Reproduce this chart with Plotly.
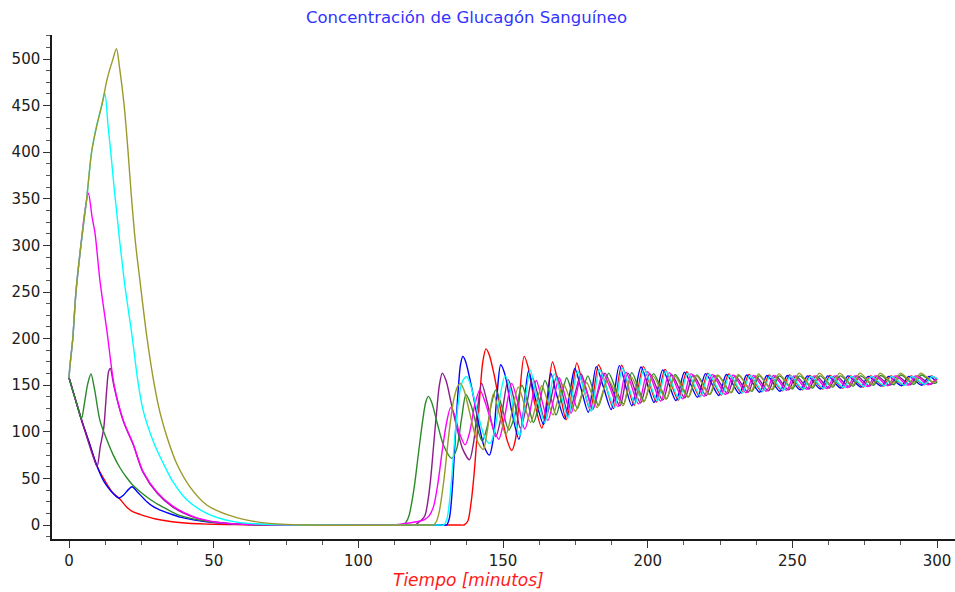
import plotly.graph_objects as go

# Blood glucagon concentration for seven simulation runs, as (minutes, value) pairs.
red = [(0, 158), (2, 137), (4.3, 113), (7, 88), (9.7, 63), (12.5, 47), (15, 35), (17.7, 27.5),
       (20, 19), (22.2, 14), (24.5, 11.5), (27, 9), (30, 6.5), (35, 3.8), (40, 2.2), (45, 1.3),
       (50, 0.8), (57, 0.4), (65, 0.2), (75, 0.05), (85, 0), (135.3, 0), (136.5, 0), (137.8, 4), (139, 25),
       (140, 55), (141, 95), (142, 140), (143, 175), (144.1, 189), (145.2, 183), (147, 160),
       (149.5, 118), (151.5, 90), (153, 80), (154.3, 92), (155.6, 135), (157.3, 181), (158.8, 168),
       (161, 130), (163.4, 104), (165.2, 135), (167.1, 175), (169.2, 150), (171.8, 113),
       (173.7, 140), (175.5, 174), (177.6, 150), (180.2, 123), (183, 172), (185.5, 150),
       (188.2, 125), (191, 171.5), (195.3, 128.5), (198.5, 170), (203, 132), (206, 167),
       (210.6, 134), (213.5, 164.5), (218, 137.5), (220.8, 163), (225.4, 139.5), (228, 162),
       (232.5, 141.5), (235, 161.5), (239.5, 143), (242, 161), (246.5, 144), (249, 161),
       (253.5, 145), (256, 160.5), (260.5, 146), (263, 160.5), (267.5, 147), (270, 160),
       (274.5, 148), (277, 160), (281.5, 149), (284, 160), (288.5, 150), (291, 160),
       (295.5, 150.5), (298, 160), (300, 156)]

blue = [(0, 158), (2, 137), (4.3, 113), (7, 88), (9.7, 63), (12, 47), (14.2, 37.5), (17.2, 29),
        (18.8, 32), (20.5, 38), (21.8, 41), (23.5, 36), (26.9, 25), (29, 20), (31.5, 16), (35, 12),
        (38.4, 8.5), (43, 5.5), (47.6, 3.5), (55, 1.5), (65, 0.5), (75, 0.1), (85, 0), (129.3, 0), (130.5, 0),
        (131.5, 8), (132.5, 40), (133.5, 95), (134.5, 145), (135.3, 172), (136.1, 181), (137, 176),
        (139, 150), (141.5, 110), (143.5, 84), (145.3, 75), (146.5, 90), (147.8, 135), (149.2, 172),
        (150.8, 160), (153, 122), (155.5, 92), (157, 120), (158.8, 165), (160.8, 140), (164, 108),
        (165.3, 130), (166.5, 163), (168.5, 140), (171.3, 114), (173, 140), (174.8, 168),
        (177, 146), (179.5, 121), (182.2, 170), (184.7, 148), (187.4, 124), (190.2, 171),
        (194.5, 128), (197.7, 169.5), (202.2, 131.5), (205.2, 166.5), (209.8, 133.5),
        (212.7, 164), (217.2, 137), (220, 162.5), (224.6, 139), (227.2, 161.5), (231.7, 141),
        (234.2, 161), (238.7, 142.5), (241.2, 160.5), (245.7, 143.5), (248.2, 160.5),
        (252.7, 145), (255.2, 160), (259.7, 146), (262.2, 160), (266.7, 147), (269.2, 160),
        (273.7, 148), (276.2, 159.5), (280.7, 149), (283.2, 159.5), (287.7, 149.5),
        (290.2, 159.5), (294.7, 150), (297.2, 159.5), (300, 153)]

purple = [(0, 158), (2, 137), (4.3, 113), (5.5, 101), (7, 86), (8.5, 72), (9.7, 63), (10.8, 84),
          (12, 104), (12.6, 127), (13.1, 148), (13.7, 165), (14.3, 168), (15, 158), (15.6, 148),
          (18.8, 111), (22.2, 86), (25.5, 57), (30.5, 34), (36, 19), (43, 8.5), (51, 2.8),
          (62, 0.5), (77, 0), (118.3, 0), (119.5, 0), (120.5, 2), (122, 6), (123, 10), (124, 25), (125, 50),
          (126, 85), (127, 120), (128, 150), (129, 163), (130.3, 155), (132, 132), (134, 105),
          (136, 82), (138.4, 70), (139.8, 88), (141.2, 125), (142.6, 152), (144.5, 132),
          (147.5, 95), (149.6, 120), (151.8, 156), (153.8, 135), (156, 104), (158.1, 128),
          (160.2, 158), (162.3, 136), (164.5, 112), (166.5, 135), (168.6, 160), (170.6, 140),
          (172.6, 118), (174.8, 140), (177, 162), (179, 143), (181, 124), (183.1, 145),
          (185.2, 163), (190.4, 128), (193.2, 163), (197.5, 131), (200.7, 162.5), (205.2, 134),
          (208.2, 161.5), (212.8, 136.5), (215.7, 161), (220.2, 139), (223, 160.5),
          (227.6, 141), (230.2, 160), (234.7, 142.5), (237.2, 160), (241.7, 144),
          (244.2, 160), (248.7, 145), (251.2, 160), (255.7, 146), (258.2, 160), (262.7, 147),
          (265.2, 160), (269.7, 148), (272.2, 160), (276.7, 149), (279.2, 160), (283.7, 150),
          (286.2, 160), (290.7, 150.5), (293.2, 160), (297.7, 151), (300, 157)]

green = [(0, 158), (1.5, 142), (3, 127), (4.3, 114), (5.3, 130), (6.5, 152), (7.6, 162),
         (8.8, 146), (10.7, 112), (13, 92), (15.3, 75), (17.5, 62), (19.9, 51), (22, 43),
         (24.5, 36), (28.7, 26), (32, 20), (38.4, 10), (47.6, 4), (55, 1.8), (62.5, 0.6), (75, 0),
         (114.3, 0), (115.5, 0), (116.5, 3), (117.5, 10), (118.5, 25), (119.5, 45), (120.5, 70), (121.5, 95),
         (122.5, 118), (123.3, 132), (124.2, 138), (125.3, 132), (127.2, 110), (129.5, 85),
         (132.3, 71.5), (134, 82), (135.7, 115), (137.2, 140), (139, 128), (141, 105),
         (142.8, 90), (144.5, 105), (146, 130), (147.5, 145), (149.5, 128), (152, 102),
         (154.3, 120), (156.5, 150), (158.5, 132), (160.5, 110), (162.5, 130), (164.5, 155),
         (166.5, 137), (168.3, 118), (170.2, 138), (172, 158), (173.8, 142), (175.7, 125),
         (177.5, 143), (179.3, 160), (181.2, 144), (183, 128), (184.8, 145), (186.5, 163),
         (189.1, 145), (191.7, 130), (194.5, 163.5), (198.8, 133), (202, 162.5), (206.5, 135.5),
         (209.5, 161.5), (214.1, 137.5), (217, 161), (221.5, 140), (224.3, 160.5), (228.9, 142),
         (231.5, 160.5), (236, 143.5), (238.5, 160), (243, 145), (245.5, 160), (250, 146),
         (252.5, 160), (257, 147), (259.5, 160), (264, 148), (266.5, 160), (271, 149),
         (273.5, 160), (278, 150), (280.5, 160.5), (285, 150.5), (287.5, 161), (292, 151),
         (294.5, 161), (299, 152), (300, 153)]

magenta = [(0, 158), (0.3, 170), (1.3, 200), (2.4, 250), (4.1, 300), (5.5, 337), (6.7, 356),
           (8, 330), (9, 313), (10.7, 262), (13.2, 206), (15.6, 150), (18.8, 112), (22.2, 87),
           (25.5, 58), (30.5, 35), (36, 20), (43, 9), (51, 3), (62, 0.6), (77, 0), (110.8, 0), (112, 0),
           (114.4, 1), (118, 2.5), (121, 4), (123, 6), (124.5, 10), (126, 20), (127.5, 45),
           (129, 80), (130.5, 110), (131.9, 126), (133.3, 118), (135, 98), (136.9, 86),
           (138.5, 100), (140.3, 130), (142, 145), (144, 130), (146.5, 105), (148.5, 92),
           (150.5, 115), (153, 152), (155.2, 130), (157.5, 103), (159.5, 125), (161.5, 155),
           (163.5, 133), (165.5, 112), (167.5, 135), (169.4, 158), (171.5, 138), (173.5, 120),
           (175.3, 140), (177, 160), (179, 142), (181, 124), (182.8, 145), (184.5, 163),
           (187, 147), (189.7, 127), (192.5, 164), (196.8, 130), (200, 164.5), (204.5, 133),
           (207.5, 163.5), (212.1, 135.5), (215, 162.5), (219.5, 138), (222.3, 161.5),
           (226.9, 140), (229.5, 161), (234, 142), (236.5, 160.5), (241, 143.5), (243.5, 160.5),
           (248, 144.5), (250.5, 160), (255, 145.5), (257.5, 160), (262, 146.5), (264.5, 160),
           (269, 147.5), (271.5, 160), (276, 148.5), (278.5, 160), (283, 149.5), (285.5, 160),
           (290, 150), (292.5, 160), (297, 150.5), (300, 158)]

cyan = [(0, 158), (0.3, 170), (1.3, 200), (2.4, 250), (4.1, 300), (6.1, 350), (7.8, 400),
        (9.5, 428), (11.3, 450), (12.4, 463), (13.5, 428), (14.5, 398), (15.5, 365), (16.5, 335),
        (17.5, 305), (18.5, 278), (19.5, 252), (21.7, 205), (24, 150), (25.7, 122), (29.1, 90),
        (32.6, 66), (36, 46), (40.7, 27), (47.6, 12.5), (56.8, 3.6), (68.3, 0.7), (83, 0),
        (128.3, 0), (129.5, 0), (130.5, 5), (131.5, 25), (132.5, 60), (133.5, 100), (134.5, 130),
        (135.5, 150), (136.5, 157), (137.5, 159), (138.5, 153), (140.5, 130), (142.5, 105),
        (144, 92), (145.5, 87.6), (147, 100), (148.8, 135), (150.7, 160), (152.5, 145),
        (154.3, 110), (155.8, 96), (157.5, 130), (159.4, 166), (161.5, 140), (164.5, 110),
        (166, 135), (167.7, 162), (170, 140), (172.5, 115), (174, 140), (175.8, 165),
        (178, 145), (180.5, 122), (183.3, 167), (185.8, 147), (188.5, 126), (191.3, 168),
        (195.6, 130), (198.8, 167), (203.3, 133), (206.3, 165), (210.9, 135), (213.8, 163),
        (218.3, 138), (221.1, 162), (225.7, 140), (228.3, 161), (232.8, 142), (235.3, 160.5),
        (239.8, 143.5), (242.3, 160), (246.8, 144.5), (249.3, 160), (253.8, 145.5),
        (256.3, 159.5), (260.8, 146.5), (263.3, 159.5), (267.8, 147.5), (270.3, 159.5),
        (274.8, 148.5), (277.3, 159.5), (281.8, 149.5), (284.3, 159.5), (288.8, 150),
        (291.3, 159.5), (295.8, 151), (298.3, 159.5), (300, 157)]

olive = [(0, 158), (0.3, 170), (1.3, 200), (2.4, 250), (4.1, 300), (6.1, 350), (7.8, 400),
         (9.5, 427), (11.3, 450), (13.3, 480), (15, 498), (16.4, 511), (17.5, 490), (19, 452),
         (20.3, 405), (21.5, 355), (22.9, 305), (24.6, 260), (26.9, 202), (29.5, 150),
         (31.5, 120), (33.8, 95), (37.2, 66), (41.8, 41), (47.6, 21.5), (56.8, 9), (68.3, 2),
         (83, 0), (124.8, 0), (126, 0), (127, 4), (128, 15), (129, 35), (130, 60), (131, 90), (132, 115),
         (133, 135), (134.2, 148), (135.2, 152), (136.5, 145), (138.5, 120), (140.5, 95),
         (142, 85), (143.2, 81), (144.5, 100), (146.7, 141), (148.8, 118), (151, 97), (153, 120),
         (155.3, 148), (157.5, 128), (159.5, 110), (161.5, 130), (163.4, 149.5), (165.5, 132),
         (167.3, 118), (169, 135), (170.9, 151), (173, 136), (175, 122), (177, 138),
         (178.9, 153), (180.7, 140), (182.5, 126), (184.4, 142), (186.3, 156), (188.9, 142),
         (191.5, 128), (194.3, 159), (198.6, 132), (201.8, 160), (206.3, 135), (209.3, 160),
         (213.9, 137), (216.8, 160.5), (221.3, 140), (224.1, 161), (228.7, 142), (231.3, 161.5),
         (235.8, 144), (238.3, 162), (242.8, 145.5), (245.3, 162.5), (249.8, 147), (252.3, 163),
         (256.8, 148), (259.3, 163), (263.8, 149), (266.3, 163), (270.8, 150), (273.3, 163),
         (277.8, 151), (280.3, 163), (284.8, 152), (287.3, 163), (291.8, 152.5), (294.3, 163),
         (298.8, 153), (300, 155)]

# Drawing order: later runs sit on top of earlier ones.
runs = [
    (red, "#ff0000"),
    (blue, "#0000ff"),
    (purple, "#8b1c8b"),
    (green, "#2a8a2a"),
    (magenta, "#ff00ff"),
    (cyan, "#00ffff"),
    (olive, "#9a9a2a"),
]

x_ticks = [0, 50, 100, 150, 200, 250, 300]
y_ticks = [0, 50, 100, 150, 200, 250, 300, 350, 400, 450, 500]

fig = go.Figure()
for pts, color in runs:
    t = [p[0] for p in pts]
    v = [p[1] for p in pts]
    fig.add_trace(go.Scatter(
        x=t, y=v, mode="lines",
        line=dict(color=color, width=1.4, shape="spline", smoothing=0.8),
        showlegend=False, hoverinfo="skip",
    ))

axis_common = dict(
    showgrid=False, zeroline=False, showline=True,
    linecolor="#1a1a1a", linewidth=1.5,
    ticks="outside", ticklen=7, tickwidth=1, tickcolor="#333333",
    tickfont=dict(family="DejaVu Sans", size=15, color="#202020"),
)

fig.update_xaxes(
    range=[-5.88, 306.2], tickmode="array", tickvals=x_ticks,
    ticktext=[str(v) for v in x_ticks],
    minor=dict(ticks="outside", ticklen=4, tickmode="linear", tick0=0, dtick=12.5,
               tickcolor="#555555", showgrid=False),
    **axis_common,
)
fig.update_yaxes(
    range=[-15.0, 525.8], tickmode="array", tickvals=y_ticks,
    ticktext=[str(v) for v in y_ticks],
    minor=dict(ticks="outside", ticklen=4, tickmode="linear", tick0=0, dtick=12.5,
               tickcolor="#555555", showgrid=False),
    **axis_common,
)

fig.update_layout(
    width=955, height=592,
    margin=dict(l=52, r=0, t=35, b=53),
    paper_bgcolor="white", plot_bgcolor="white",
    showlegend=False,
    annotations=[
        dict(text="Concentración de Glucagón Sanguíneo", xref="paper", yref="paper",
             x=0.4585, y=1.0357, xanchor="center", yanchor="middle", showarrow=False,
             font=dict(family="DejaVu Sans", size=16.5, color="#3333ff")),
        dict(text="<i>Tiempo [minutos]</i>", xref="paper", yref="paper",
             x=0.4607, y=-0.0813, xanchor="center", yanchor="middle", showarrow=False,
             font=dict(family="DejaVu Sans", size=17, color="#ff1a1a")),
    ],
)

fig.write_html("out.html")
